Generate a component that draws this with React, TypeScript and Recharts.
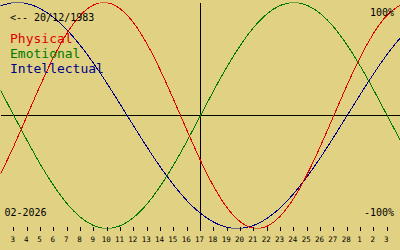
import React from 'react';
import { LineChart, Line, XAxis, YAxis, ReferenceLine } from 'recharts';

// day index -1 .. 29 (index 0 = 3 Feb 2026)
const dayIndex = [-1, 0, 1, 2, 3, 4, 5, 6, 7, 8, 9, 10, 11, 12, 13, 14, 15, 16, 17, 18, 19, 20, 21, 22, 23, 24, 25, 26, 27, 28, 29];
const tickIndex = [0, 1, 2, 3, 4, 5, 6, 7, 8, 9, 10, 11, 12, 13, 14, 15, 16, 17, 18, 19, 20, 21, 22, 23, 24, 25, 26, 27, 28];
const dayLabels = ['3', '4', '5', '6', '7', '8', '9', '10', '11', '12', '13', '14', '15', '16', '17', '18', '19', '20', '21', '22', '23', '24', '25', '26', '27', '28', '1', '2', '3'];
const todayIndex = 14;

const physical = [-52.0, -27.0, 0, 27.0, 52.0, 73.1, 88.8, 97.9, 99.8, 94.2, 81.7, 63.1, 39.8, 13.6, -13.6, -39.8, -63.1, -81.7, -94.2, -99.8, -97.9, -88.8, -73.1, -52.0, -27.0, 0, 27.0, 52.0, 73.1, 88.8, 97.9];
const emotional = [22.3, 0, -22.3, -43.4, -62.3, -78.2, -90.1, -97.5, -100, -97.5, -90.1, -78.2, -62.3, -43.4, -22.3, 0, 22.3, 43.4, 62.3, 78.2, 90.1, 97.5, 100, 97.5, 90.1, 78.2, 62.3, 43.4, 22.3, 0, -22.3];
const intellectual = [97.2, 99.9, 99.0, 94.5, 86.6, 75.6, 61.8, 45.8, 28.2, 9.5, -9.5, -28.2, -45.8, -61.8, -75.6, -86.6, -94.5, -99.0, -99.9, -97.2, -91.0, -81.5, -69.0, -54.1, -37.2, -18.9, 0, 18.9, 37.2, 54.1, 69.0];

const data = dayIndex.map((i, k) => ({
  i,
  physical: physical[k],
  emotional: emotional[k],
  intellectual: intellectual[k],
}));

const FONT = '"DejaVu Sans Mono", monospace';
const BG = '#e1d283';
const RED = '#e00000';
const GREEN = '#007800';
const BLUE = '#000088';

const Tick = (props: any) => {
  const { x, y, payload } = props;
  const lx = Math.floor(x) + 0.5;
  const idx = tickIndex.indexOf(payload.value);
  return (
    <g>
      <line x1={lx} x2={lx} y1={y - 1.5} y2={y + 2.5} stroke="#000" strokeWidth={1} shapeRendering="crispEdges" />
      <text x={x - 1} y={y + 13} textAnchor="middle" fontFamily={FONT} fontSize={7.5} fill="#000">
        {dayLabels[idx]}
      </text>
    </g>
  );
};

export default function App() {
  return (
    <div style={{ position: 'fixed', left: 0, top: 0, width: 400, height: 250, background: BG, overflow: 'hidden' }}>
      <style>{'.recharts-line-curve, .recharts-reference-line-line { shape-rendering: crispEdges; }'}</style>
      <LineChart width={401} height={250} data={data} margin={{ top: 2.5, right: 0.5, bottom: 0, left: 0.5 }}>
        <XAxis
          dataKey="i"
          type="number"
          domain={[-1, 29]}
          ticks={tickIndex}
          interval={0}
          axisLine={false}
          tickLine={false}
          tickSize={0}
          tickMargin={0}
          height={21.5}
          tick={<Tick />}
          allowDataOverflow
        />
        <YAxis hide domain={[-100, 100]} width={0} allowDataOverflow />
        <ReferenceLine y={0} stroke="#000" strokeWidth={1} />
        <ReferenceLine x={todayIndex} stroke="#000" strokeWidth={1} />
        <Line type="natural" dataKey="emotional" stroke={GREEN} strokeWidth={1} dot={false} isAnimationActive={false} />
        <Line type="natural" dataKey="intellectual" stroke={BLUE} strokeWidth={1} dot={false} isAnimationActive={false} />
        <Line type="natural" dataKey="physical" stroke={RED} strokeWidth={1} dot={false} isAnimationActive={false} />
      </LineChart>
      <svg width={400} height={250} style={{ position: 'absolute', left: 0, top: 0, pointerEvents: 'none' }}>
        <text x={10} y={20.5} fontFamily={FONT} fontSize={10} fill="#000">{'<-- 20/12/1983'}</text>
        <text x={10} y={42.5} fontFamily={FONT} fontSize={13} fill={RED}>Physical</text>
        <text x={10} y={57.5} fontFamily={FONT} fontSize={13} fill={GREEN}>Emotional</text>
        <text x={10} y={72.5} fontFamily={FONT} fontSize={13} fill={BLUE}>Intellectual</text>
        <text x={394} y={16} textAnchor="end" fontFamily={FONT} fontSize={10} fill="#000">100%</text>
        <text x={4.5} y={215.7} fontFamily={FONT} fontSize={10} fill="#000">02-2026</text>
        <text x={394} y={216} textAnchor="end" fontFamily={FONT} fontSize={10} fill="#000">-100%</text>
      </svg>
    </div>
  );
}
